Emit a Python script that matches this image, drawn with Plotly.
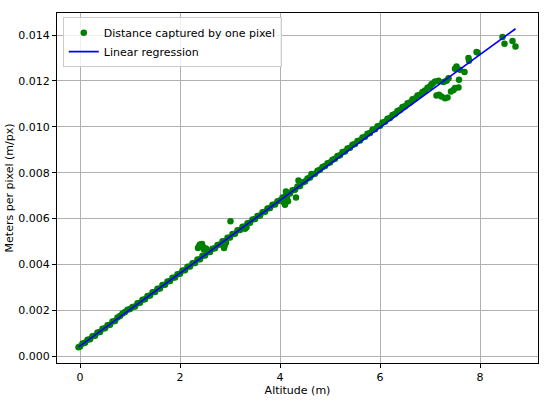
import plotly.graph_objects as go

# Measured samples: altitude (m) and meters per pixel (m/px)
altitude_m = [
    -0.03, 0.00, 0.05, 0.10, 0.15, 0.20, 0.25, 0.30, 0.35, 0.40, 0.45, 0.50, 0.55, 0.60, 0.65, 0.70,
    0.75, 0.80, 0.85, 0.90, 0.95, 1.00, 1.05, 1.10, 1.15, 1.20, 1.25, 1.30, 1.35, 1.40, 1.45, 1.50,
    1.55, 1.60, 1.65, 1.70, 1.75, 1.80, 1.85, 1.90, 1.95, 2.00, 2.05, 2.10, 2.15, 2.20, 2.25, 2.30,
    2.35, 2.40, 2.45, 2.50, 2.55, 2.60, 2.65, 2.70, 2.75, 2.80, 2.85, 2.90, 2.95, 3.00, 3.05, 3.10,
    3.15, 3.20, 3.25, 3.30, 3.35, 3.40, 3.45, 3.50, 3.55, 3.60, 3.65, 3.70, 3.75, 3.80, 3.85, 3.90,
    3.95, 4.00, 4.05, 4.10, 4.15, 4.20, 4.25, 4.30, 4.35, 4.40, 4.45, 4.50, 4.55, 4.60, 4.65, 4.70,
    4.75, 4.80, 4.85, 4.90, 4.95, 5.00, 5.05, 5.10, 5.15, 5.20, 5.25, 5.30, 5.35, 5.40, 5.45, 5.50,
    5.55, 5.60, 5.65, 5.70, 5.75, 5.80, 5.85, 5.90, 5.95, 6.00, 6.05, 6.10, 6.15, 6.20, 6.25, 6.30,
    6.35, 6.40, 6.45, 6.50, 6.55, 6.60, 6.65, 6.70, 6.75, 6.80, 6.85, 6.90, 6.95, 7.00, 7.05, 7.10,
    2.36, 2.38, 2.40, 2.42, 2.44, 2.46, 2.48, 2.52, 2.55, 2.58,
    2.88, 2.89, 2.90, 2.92, 3.01, 3.30, 3.33,
    4.08, 4.10, 4.11, 4.12, 4.14, 4.16, 4.32, 4.37, 4.63,
    7.03, 7.13, 7.17, 7.18, 7.23, 7.27, 7.30, 7.33, 7.35, 7.37, 7.42, 7.47, 7.50, 7.50, 7.53,
    7.57, 7.58, 7.60, 7.69, 7.77, 7.78, 7.93, 7.95, 8.45, 8.49, 8.65, 8.71,
]
meters_per_px = [
    0.000400, 0.000430, 0.000560, 0.000590, 0.000720, 0.000740, 0.000880, 0.000900, 0.001040, 0.001060,
    0.001200, 0.001220, 0.001360, 0.001380, 0.001520, 0.001540, 0.001690, 0.001760, 0.001870, 0.001930,
    0.002030, 0.002060, 0.002150, 0.002170, 0.002310, 0.002330, 0.002470, 0.002490, 0.002630, 0.002650,
    0.002790, 0.002800, 0.002950, 0.002960, 0.003110, 0.003120, 0.003260, 0.003280, 0.003420, 0.003440,
    0.003580, 0.003600, 0.003740, 0.003750, 0.003900, 0.003910, 0.004060, 0.004070, 0.004220, 0.004230,
    0.004380, 0.004390, 0.004540, 0.004550, 0.004690, 0.004710, 0.004850, 0.004870, 0.005010, 0.005020,
    0.005170, 0.005180, 0.005330, 0.005340, 0.005490, 0.005500, 0.005650, 0.005660, 0.005800, 0.005820,
    0.005960, 0.005980, 0.006120, 0.006140, 0.006280, 0.006300, 0.006440, 0.006460, 0.006600, 0.006620,
    0.006760, 0.006790, 0.006920, 0.006950, 0.007080, 0.007100, 0.007240, 0.007260, 0.007400, 0.007420,
    0.007570, 0.007620, 0.007750, 0.007790, 0.007920, 0.007960, 0.008090, 0.008130, 0.008250, 0.008290,
    0.008410, 0.008450, 0.008570, 0.008610, 0.008730, 0.008760, 0.008900, 0.008930, 0.009060, 0.009090,
    0.009220, 0.009250, 0.009380, 0.009410, 0.009540, 0.009570, 0.009700, 0.009730, 0.009870, 0.009890,
    0.010030, 0.010050, 0.010190, 0.010220, 0.010350, 0.010390, 0.010520, 0.010560, 0.010690, 0.010730,
    0.010860, 0.010900, 0.011030, 0.011060, 0.011200, 0.011240, 0.011360, 0.011400, 0.011520, 0.011580,
    0.011700, 0.011760, 0.011880, 0.011980,
    0.004720, 0.004800, 0.004870, 0.004840, 0.004900, 0.004760, 0.004650, 0.004700, 0.004620, 0.004560,
    0.004720, 0.004820, 0.004900, 0.004960, 0.005890, 0.005560, 0.005620,
    0.006700, 0.006600, 0.006820, 0.007180, 0.006900, 0.006760, 0.006920, 0.007660, 0.007940,
    0.011860, 0.011370, 0.012010, 0.011400, 0.011320, 0.011950, 0.011250, 0.012010, 0.011280, 0.012120,
    0.011540, 0.011610, 0.011690, 0.012530, 0.012630,
    0.011710, 0.012050, 0.012490, 0.012390, 0.013000, 0.012880, 0.013260, 0.013240, 0.013910, 0.013620,
    0.013740, 0.013500,
]

# Linear regression end points
fit_x = [-0.03, 8.71]
fit_y = [0.000402, 0.014273]

x_ticks = [0, 2, 4, 6, 8]
y_ticks = [0.000, 0.002, 0.004, 0.006, 0.008, 0.010, 0.012, 0.014]

FONT = "DejaVu Sans"

fig = go.Figure()
fig.add_trace(go.Scatter(
    x=altitude_m, y=meters_per_px, mode="markers",
    name="Distance captured by one pixel",
    marker=dict(color="#008000", size=6.5, line=dict(width=0)),
))
fig.add_trace(go.Scatter(
    x=fit_x, y=fit_y, mode="lines", name="Linear regression",
    line=dict(color="#0000ff", width=1.7),
))

axis_common = dict(
    showline=True, linecolor="black", linewidth=1, mirror=True,
    showgrid=True, gridcolor="#b0b0b0", gridwidth=1,
    ticks="outside", ticklen=4, tickcolor="black", tickwidth=1,
    zeroline=False, automargin=False,
    tickfont=dict(family=FONT, size=11, color="black"),
)

fig.update_layout(
    width=550, height=401,
    margin=dict(l=57, r=12, t=13, b=38),
    paper_bgcolor="white", plot_bgcolor="white",
    font=dict(family=FONT, size=11, color="black"),
    xaxis=dict(range=[-0.46, 9.16], tickvals=x_ticks,
               title=dict(text="Altitude (m)", font=dict(family=FONT, size=11), standoff=2),
               **axis_common),
    yaxis=dict(range=[-0.00029, 0.01496], tickvals=y_ticks, tickformat=".3f",
               title=dict(text="Meters per pixel (m/px)", font=dict(family=FONT, size=11), standoff=2),
               **axis_common),
    legend=dict(x=0.012, y=0.988, xanchor="left", yanchor="top",
                bgcolor="rgba(255,255,255,0.8)", bordercolor="#cccccc", borderwidth=1,
                font=dict(family=FONT, size=11), tracegroupgap=0, itemwidth=30),
    showlegend=True,
)

fig.write_html("out.html", config={"displayModeBar": False},
               post_script="document.body.style.margin='0';")
